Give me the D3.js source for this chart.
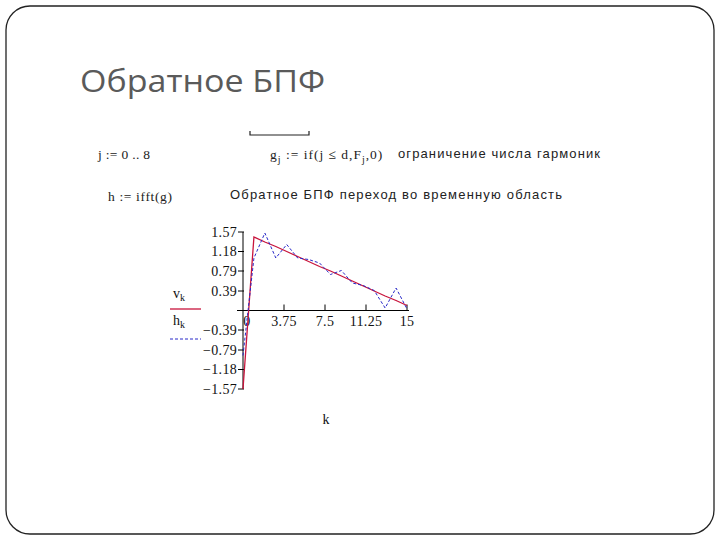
<!DOCTYPE html>
<html><head><meta charset="utf-8">
<script src="https://cdn.jsdelivr.net/npm/d3@7"></script>
<style>body{margin:0;background:#fff}svg{display:block}</style>
</head><body>
<svg id="c" width="720" height="540"></svg>
<script>
const kValues = [0,1,2,3,4,5,6,7,8,9,10,11,12,13,14,15];
const vValues = [-1.57,1.47,1.37,1.28,1.18,1.08,0.98,0.88,0.79,0.69,0.59,0.49,0.39,0.29,0.20,0.10];
const hValues = [-0.9,1.05,1.55,1.05,1.32,1.05,1.02,0.95,0.72,0.80,0.55,0.50,0.40,0.05,0.45,0.03];
const xTicks = [0,3.75,7.5,11.25,15];
const xTickLabels = ["0","3.75","7.5","11.25","15"];
const yTicks = [1.57,1.18,0.79,0.39,-0.39,-0.79,-1.18,-1.57];
const yTickLabels = ["1.57","1.18","0.79","0.39","\u22120.39","\u22120.79","\u22121.18","\u22121.57"];

const svg = d3.select("#c");
svg.append("rect").attr("x",6).attr("y",6).attr("width",708).attr("height",528)
  .attr("rx",24).attr("fill","#fff").attr("stroke","#222").attr("stroke-width",1.3);
svg.append("text").attr("x",80).attr("y",92).attr("font-family","Open Sans, Lato, sans-serif")
  .attr("font-size",31).attr("fill","#5a5a5a").attr("textLength",245).attr("lengthAdjust","spacingAndGlyphs").text("Обратное БПФ");

const serif = "Liberation Serif, Times New Roman, serif";
const sans = "Liberation Sans, Arial, sans-serif";
svg.append("text").attr("x",98).attr("y",159).attr("font-family",serif).attr("font-size",13.5).attr("fill","#222")
  .attr("textLength",52).attr("lengthAdjust","spacing").text("j := 0 .. 8");
svg.append("path").attr("d","M250,131 V135 H309 V131").attr("fill","none").attr("stroke","#222").attr("stroke-width",1.2);
const g = svg.append("text").attr("x",270).attr("y",159).attr("font-family",serif).attr("font-size",13.5).attr("fill","#222").attr("letter-spacing",1.0);
g.append("tspan").text("g");
g.append("tspan").attr("font-size",10).attr("dy",4).text("j");
g.append("tspan").attr("dy",-4).text(" := if(j \u2264 d,F");
g.append("tspan").attr("font-size",10).attr("dy",4).text("j");
g.append("tspan").attr("dy",-4).text(",0)");
svg.append("text").attr("x",398).attr("y",158).attr("font-family",sans).attr("font-size",13).attr("fill","#222")
  .attr("textLength",202).attr("lengthAdjust","spacing").text("ограничение числа гармоник");
svg.append("text").attr("x",108).attr("y",201).attr("font-family",serif).attr("font-size",13.5).attr("fill","#222")
  .attr("textLength",64).attr("lengthAdjust","spacing").text("h := ifft(g)");
svg.append("text").attr("x",230).attr("y",199).attr("font-family",sans).attr("font-size",13).attr("fill","#222")
  .attr("textLength",332).attr("lengthAdjust","spacing").text("Обратное БПФ переход во временную область");

const x = d3.scaleLinear().domain([0,15]).range([243,407]);
const y = d3.scaleLinear().domain([-1.57,1.57]).range([389,232]);

const ax = svg.append("g").attr("stroke","#000").attr("stroke-width",1);
ax.append("line").attr("x1",x(0)).attr("x2",x(0)).attr("y1",y(1.57)).attr("y2",y(-1.57));
ax.append("line").attr("x1",x(0)-6).attr("x2",x(15)+2).attr("y1",y(0)).attr("y2",y(0));
yTicks.forEach(t=>{
  ax.append("line").attr("x1",x(0)-5).attr("x2",x(0)+1).attr("y1",y(t)).attr("y2",y(t));
});
xTicks.forEach(t=>{
  if(t!==0) ax.append("line").attr("x1",x(t)).attr("x2",x(t)).attr("y1",y(0)).attr("y2",y(0)-6);
});
yTicks.forEach((t,i)=>{
  svg.append("text").attr("x",x(0)-6).attr("y",y(t)+4.5).attr("text-anchor","end")
    .attr("font-family",serif).attr("font-size",14).attr("letter-spacing",0.3).attr("fill","#111").text(yTickLabels[i]);
});
xTicks.forEach((t,i)=>{
  svg.append("text").attr("x",x(t)+(t===0?4:0)).attr("y",y(0)+15).attr("text-anchor","middle")
    .attr("font-family",serif).attr("font-size",14).attr("letter-spacing",0.3).attr("fill","#111").text(xTickLabels[i]);
});

const line = d3.line().x((d,i)=>x(kValues[i])).y(d=>y(d));
svg.append("path").datum(vValues).attr("d",line).attr("fill","none").attr("stroke","#c8143c").attr("stroke-width",1.3);
svg.append("path").datum(hValues).attr("d",line).attr("fill","none").attr("stroke","#2828c8").attr("stroke-width",1).attr("stroke-dasharray","3,2");

const lg = svg.append("g");
const vl = lg.append("text").attr("x",173).attr("y",298).attr("font-family",serif).attr("font-size",14).attr("fill","#111");
vl.append("tspan").text("v"); vl.append("tspan").attr("font-size",10).attr("dy",3).text("k");
lg.append("line").attr("x1",170).attr("x2",201).attr("y1",309).attr("y2",309).attr("stroke","#c8143c").attr("stroke-width",1.3);
const hl = lg.append("text").attr("x",173).attr("y",325).attr("font-family",serif).attr("font-size",14).attr("fill","#111");
hl.append("tspan").text("h"); hl.append("tspan").attr("font-size",10).attr("dy",3).text("k");
lg.append("line").attr("x1",170).attr("x2",201).attr("y1",339).attr("y2",339).attr("stroke","#2828c8").attr("stroke-dasharray","3,2");
svg.append("text").attr("x",326).attr("y",424).attr("text-anchor","middle").attr("font-family",serif).attr("font-size",14).attr("fill","#111").text("k");
</script>
</body></html>
